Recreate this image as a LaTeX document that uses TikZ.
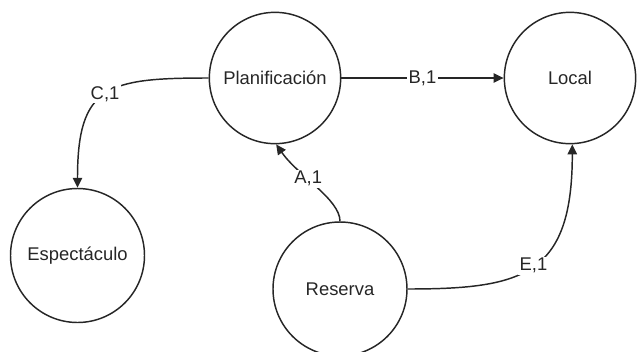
\documentclass[tikz,border=0pt]{standalone}
\usepackage{fontspec}
\setmainfont{Liberation Sans}
\usetikzlibrary{arrows.meta}
\definecolor{ink}{gray}{0.15}
\begin{document}
\begin{tikzpicture}[x=0.75pt,y=-0.75pt,
  state/.style={circle,draw=ink,line width=1.1pt,minimum size=98.5pt,inner sep=0pt,
    font=\fontsize{13.8}{16}\selectfont,text=ink},
  flow/.style={draw=ink,line width=1.1pt,-{Triangle[length=7.5pt,width=7pt]}},
  tag/.style={fill=white,inner sep=1pt,font=\fontsize{13.8}{16}\selectfont,text=ink}]
\useasboundingbox (0,0) rectangle (637,351);

% states
\node[state] (plan) at (275,78) {Planificación};
\node[state] (local) at (570,78) {Local};
\node[state,minimum size=100.5pt] (esp) at (77.5,255.5) {Espectáculo};
\node[state,minimum size=100.5pt] (res) at (340,289) {Reserva};

% transitions
\draw[flow] (plan.east) -- node[tag] {B,1} (local.west);
\draw[flow] (plan.west) to[out=180,in=90,out distance=76pt,in distance=77pt]
  node[tag,pos=0.5] {C,1} (esp.north);
\draw[flow] (res.north) to[out=90,in=-55,out distance=16.5pt,in distance=29pt]
  node[tag,pos=0.6] {A,1} (plan.-89);
\draw[flow] (res.east) to[out=0,in=-90,out distance=87pt,in distance=98pt]
  node[tag,pos=0.5] {E,1} (local.-88);
\end{tikzpicture}
\end{document}
